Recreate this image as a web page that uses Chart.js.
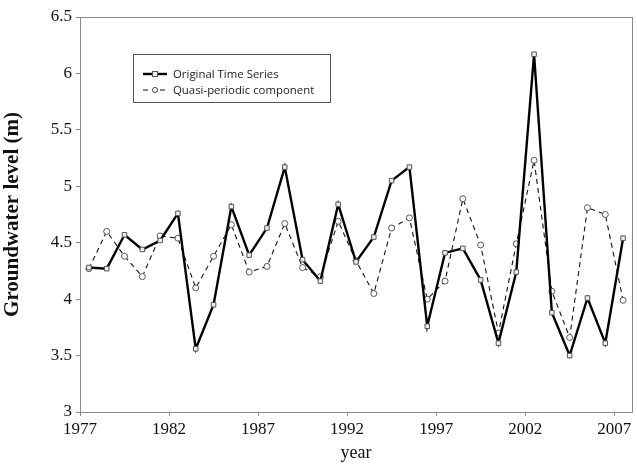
<!DOCTYPE html>
<html>
<head>
<meta charset="utf-8">
<script src="https://cdn.jsdelivr.net/npm/chart.js@4/dist/chart.umd.min.js"></script>
<style>
  html, body { margin: 0; padding: 0; background: #fff; }
  #wrap { width: 637px; height: 465px; position: relative; }
</style>
</head>
<body>
<div id="wrap"><canvas id="c" width="637" height="465"></canvas></div>
<script>
// Observation years (annual values, plotted at mid-year)
const years = [1977, 1978, 1979, 1980, 1981, 1982, 1983, 1984, 1985, 1986,
               1987, 1988, 1989, 1990, 1991, 1992, 1993, 1994, 1995, 1996,
               1997, 1998, 1999, 2000, 2001, 2002, 2003, 2004, 2005, 2006, 2007];

// Groundwater level (m)
const originalSeries = [4.28, 4.27, 4.57, 4.44, 4.52, 4.76, 3.56, 3.95, 4.82, 4.39,
                        4.63, 5.17, 4.35, 4.16, 4.84, 4.33, 4.55, 5.05, 5.17, 3.76,
                        4.41, 4.45, 4.17, 3.61, 4.24, 6.17, 3.88, 3.50, 4.01, 3.61, 4.54];

const quasiPeriodic = [4.27, 4.60, 4.38, 4.20, 4.56, 4.54, 4.10, 4.38, 4.66, 4.24,
                       4.29, 4.67, 4.28, 4.20, 4.69, 4.34, 4.05, 4.63, 4.72, 4.00,
                       4.16, 4.89, 4.48, 3.70, 4.49, 5.23, 4.07, 3.66, 4.81, 4.75, 3.99];

const xTicks = [1977, 1982, 1987, 1992, 1997, 2002, 2007];
const yTicks = [3, 3.5, 4, 4.5, 5, 5.5, 6, 6.5];

const seriesNames = ['Original Time Series', 'Quasi-periodic component'];

const toPoints = vals => vals.map((v, i) => ({ x: years[i] + 0.5, y: v }));

const FRAME = '#8a8a8a';
const SERIF = '"Liberation Serif", "Times New Roman", serif';

// Plot frame on all four sides
const framePlugin = {
  id: 'frame',
  beforeDatasetsDraw(chart) {
    const { ctx, chartArea: a } = chart;
    ctx.save();
    ctx.strokeStyle = FRAME;
    ctx.lineWidth = 1;
    ctx.strokeRect(Math.round(a.left) + 0.5, Math.round(a.top) + 0.5,
                   Math.round(a.right - a.left), Math.round(a.bottom - a.top));
    ctx.restore();
  }
};

// Boxed legend inside the plot area, top-left
const boxLegend = {
  id: 'boxLegend',
  afterDraw(chart) {
    const { ctx } = chart;
    const x0 = 133.5, y0 = 54.5, w = 197, h = 48;
    ctx.save();
    ctx.fillStyle = '#fff';
    ctx.fillRect(x0, y0, w, h);
    ctx.strokeStyle = '#555';
    ctx.lineWidth = 1;
    ctx.strokeRect(x0, y0, w, h);
    ctx.font = '11.4px "Open Sans", "Liberation Sans", sans-serif';
    ctx.fillStyle = '#222';
    ctx.textBaseline = 'middle';
    chart.data.datasets.forEach((ds, i) => {
      const cy = 74 + i * 16;
      const lx1 = 143, lx2 = 167, mx = 155;
      ctx.strokeStyle = ds.borderColor;
      ctx.lineWidth = ds.borderWidth;
      ctx.setLineDash(ds.borderDash || []);
      ctx.beginPath();
      if (ds.borderDash) {
        ctx.moveTo(lx1, cy); ctx.lineTo(mx - 5, cy);
        ctx.moveTo(mx + 5, cy); ctx.lineTo(lx2, cy);
      } else {
        ctx.moveTo(lx1, cy); ctx.lineTo(lx2, cy);
      }
      ctx.stroke();
      ctx.setLineDash([]);
      ctx.lineWidth = 1;
      ctx.strokeStyle = ds.pointBorderColor;
      ctx.fillStyle = ds.pointBackgroundColor;
      if (ds.pointStyle === 'rect') {
        ctx.fillRect(mx - 2.5, cy - 2.5, 5, 5);
        ctx.strokeRect(mx - 2.5, cy - 2.5, 5, 5);
      } else {
        ctx.beginPath();
        ctx.arc(mx, cy, 2.5, 0, Math.PI * 2);
        ctx.fill();
        ctx.stroke();
      }
      ctx.fillStyle = '#222';
      ctx.fillText(ds.label, 173, cy + 0.5);
    });
    ctx.restore();
  }
};

new Chart(document.getElementById('c'), {
  type: 'line',
  data: {
    datasets: [
      {
        label: seriesNames[0],
        data: toPoints(originalSeries),
        borderColor: '#000',
        borderWidth: 2.4,
        pointStyle: 'rect',
        pointRadius: 3.2,
        pointBorderWidth: 1,
        pointBorderColor: '#555',
        pointBackgroundColor: '#eee',
        tension: 0
      },
      {
        label: seriesNames[1],
        data: toPoints(quasiPeriodic),
        borderColor: '#111',
        borderWidth: 1.1,
        borderDash: [5, 4],
        pointStyle: 'circle',
        pointRadius: 3,
        pointBorderWidth: 0.9,
        pointBorderColor: '#444',
        pointBackgroundColor: '#fff',
        tension: 0
      }
    ]
  },
  options: {
    responsive: false,
    animation: false,
    layout: { padding: { top: 17, right: 3, left: 0, bottom: 0 } },
    plugins: {
      legend: { display: false },
      tooltip: { enabled: false }
    },
    scales: {
      x: {
        type: 'linear',
        min: 1977,
        max: 2008,
        afterBuildTicks: s => { s.ticks = xTicks.map(v => ({ value: v })); },
        afterFit: s => { s.height = 53; },
        border: { display: false },
        grid: { display: true, drawOnChartArea: false, drawTicks: true, tickLength: 4, color: FRAME },
        ticks: {
          autoSkip: false,
          maxRotation: 0,
          padding: 3,
          color: '#111',
          font: { family: SERIF, size: 17 },
          callback: v => String(v)
        },
        title: {
          display: true,
          text: 'year',
          color: '#111',
          padding: { top: 0, bottom: 1 },
          font: { family: SERIF, size: 18 }
        }
      },
      y: {
        type: 'linear',
        min: 3,
        max: 6.5,
        afterBuildTicks: s => { s.ticks = yTicks.map(v => ({ value: v })); },
        afterFit: s => { s.width = 80; },
        border: { display: false },
        grid: { display: true, drawOnChartArea: false, drawTicks: true, tickLength: 4, color: FRAME },
        ticks: {
          padding: 4,
          color: '#111',
          font: { family: SERIF, size: 17 },
          callback: v => String(v)
        },
        title: {
          display: true,
          text: 'Groundwater level (m)',
          color: '#111',
          padding: { top: 0, bottom: 1 },
          font: { family: SERIF, size: 21, weight: 'bold' }
        }
      }
    }
  },
  plugins: [framePlugin, boxLegend]
});
</script>
</body>
</html>
